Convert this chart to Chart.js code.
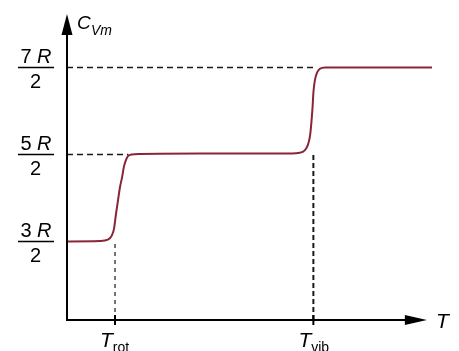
<!DOCTYPE html>
<html>
<head>
<meta charset="utf-8">
<script src="https://cdn.jsdelivr.net/npm/chart.js@4/dist/chart.umd.min.js"></script>
<style>
html,body{margin:0;padding:0;background:#fff;}
#c{display:block;}
</style>
</head>
<body>
<canvas id="c" width="459" height="351" style="width:459px;height:351px"></canvas>
<script>
// ---- data (arbitrary temperature units, C_Vm in units of R) ----
const curveT   = [0, 9.0, 11.2, 12.3, 12.9, 13.4, 14.0, 14.5, 15.1, 15.6, 16.2, 16.7, 17.8, 20.0, 36.4, 58.4, 63.8, 65.2, 66.0, 66.6, 67.0, 67.3, 67.5, 67.9, 68.5, 69.3, 70.7, 85.8, 100];
const curveC   = [1.5, 1.505, 1.52, 1.57, 1.65, 1.81, 1.98, 2.12, 2.24, 2.36, 2.44, 2.48, 2.5, 2.505, 2.51, 2.51, 2.52, 2.55, 2.61, 2.72, 2.89, 3.06, 3.21, 3.35, 3.44, 3.485, 3.5, 3.5, 3.5];
const T_rot = 13.15;
const T_vib = 67.5;
const yTickValues = [1.5, 2.5, 3.5];
const yTickNumerators = ['3', '5', '7'];
const yTickDenominators = ['2', '2', '2'];
const xTickValues = [T_rot, T_vib];
const xTickSubs = ['rot', 'vib'];
const yMin = 0.597, yMax = 4.115;
const xMin = 0, xMax = 100, xArrow = 98.6;
const C_rotTop = 1.475; // top of the T_rot guide (just under curve)
const C_vibTop = 2.52;  // top of the T_vib guide

const curve = curveT.map((t, i) => ({x: t, y: curveC[i]}));

const guideStyle = {borderColor: '#1a1a1a', pointRadius: 0, fill: false, showLine: true, tension: 0};

const axesPlugin = {
  id: 'axesPlugin',
  afterDatasetsDraw(chart) {
    const ctx = chart.ctx;
    const xs = chart.scales.x, ys = chart.scales.y;
    const x0 = xs.getPixelForValue(xMin), y0 = ys.getPixelForValue(yMin);
    const xTip = xs.getPixelForValue(xArrow), yTip = ys.getPixelForValue(yMax);
    ctx.save();
    ctx.strokeStyle = '#000'; ctx.fillStyle = '#000';
    ctx.lineWidth = 2;
    // y axis
    ctx.beginPath(); ctx.moveTo(x0, y0 + 1); ctx.lineTo(x0, yTip + 12); ctx.stroke();
    ctx.beginPath(); ctx.moveTo(x0, yTip); ctx.lineTo(x0 - 5.5, yTip + 21); ctx.lineTo(x0 + 5.5, yTip + 21); ctx.closePath(); ctx.fill();
    // x axis
    ctx.lineWidth = 1.8;
    ctx.beginPath(); ctx.moveTo(x0 - 1, y0); ctx.lineTo(xTip - 12, y0); ctx.stroke();
    ctx.beginPath(); ctx.moveTo(xTip, y0); ctx.lineTo(xTip - 22, y0 - 5); ctx.lineTo(xTip - 22, y0 + 5); ctx.closePath(); ctx.fill();
    // x ticks + labels
    xTickValues.forEach((v, i) => {
      const px = xs.getPixelForValue(v);
      ctx.lineWidth = 2;
      ctx.beginPath(); ctx.moveTo(px, y0 - 5); ctx.lineTo(px, y0 + 5); ctx.stroke();
      ctx.textBaseline = 'alphabetic'; ctx.textAlign = 'left';
      ctx.font = 'italic 21px "Liberation Sans", Arial, sans-serif';
      const wT = ctx.measureText('T').width;
      ctx.fillText('T', px - 15, 347);
      ctx.font = '14px "Liberation Sans", Arial, sans-serif';
      ctx.fillText(xTickSubs[i], px - 15 + wT, 352);
    });
    // y tick fractions
    yTickValues.forEach((v, i) => {
      const py = ys.getPixelForValue(v);
      const cx = 36;
      ctx.lineWidth = 1.5;
      ctx.beginPath(); ctx.moveTo(18, py); ctx.lineTo(54, py); ctx.stroke();
      ctx.font = '20px "Liberation Sans", Arial, sans-serif';
      const n = yTickNumerators[i] + ' ';
      const wn = ctx.measureText(n).width;
      ctx.font = 'italic 20px "Liberation Sans", Arial, sans-serif';
      const wr = ctx.measureText('R').width;
      const start = cx - (wn + wr) / 2;
      ctx.textAlign = 'left'; ctx.textBaseline = 'alphabetic';
      ctx.font = '20px "Liberation Sans", Arial, sans-serif';
      ctx.fillText(n, start, py - 4.5);
      ctx.font = 'italic 20px "Liberation Sans", Arial, sans-serif';
      ctx.fillText('R', start + wn, py - 4.5);
      ctx.font = '20px "Liberation Sans", Arial, sans-serif';
      ctx.textAlign = 'center';
      ctx.fillText(yTickDenominators[i], cx - 0.5, py + 21);
    });
    // axis titles
    ctx.textAlign = 'left'; ctx.textBaseline = 'alphabetic';
    ctx.font = 'italic 19px "Liberation Sans", Arial, sans-serif';
    ctx.fillText('C', 77, 29);
    ctx.font = 'italic 14px "Liberation Sans", Arial, sans-serif';
    ctx.fillText('Vm', 91, 35);
    ctx.font = 'italic 21px "Liberation Sans", Arial, sans-serif';
    ctx.fillText('T', 436, 328);
    ctx.restore();
  }
};

new Chart(document.getElementById('c'), {
  type: 'scatter',
  data: {
    datasets: [
      Object.assign({data: [{x: xMin, y: 3.5}, {x: T_vib, y: 3.5}], borderWidth: 1.6, borderDash: [6, 4]}, guideStyle),
      Object.assign({data: [{x: xMin, y: 2.5}, {x: 16.8, y: 2.5}], borderWidth: 1.6, borderDash: [6, 4]}, guideStyle),
      Object.assign({data: [{x: T_rot, y: yMin}, {x: T_rot, y: C_rotTop}], borderWidth: 1.2, borderDash: [4, 4]}, guideStyle),
      Object.assign({data: [{x: T_vib, y: yMin}, {x: T_vib, y: C_vibTop}], borderWidth: 2, borderDash: [5, 3]}, guideStyle),
      {
        data: curve, showLine: true, borderColor: '#8a2438', borderWidth: 2,
        pointRadius: 0, fill: false, cubicInterpolationMode: 'monotone'
      }
    ]
  },
  options: {
    responsive: false, animation: false, devicePixelRatio: 1,
    layout: {padding: {left: 67, right: 27, top: 14, bottom: 31}},
    plugins: {legend: {display: false}, tooltip: {enabled: false}},
    scales: {
      x: {type: 'linear', min: xMin, max: xMax, display: false},
      y: {type: 'linear', min: yMin, max: yMax, display: false}
    }
  },
  plugins: [axesPlugin]
});
</script>
</body>
</html>
